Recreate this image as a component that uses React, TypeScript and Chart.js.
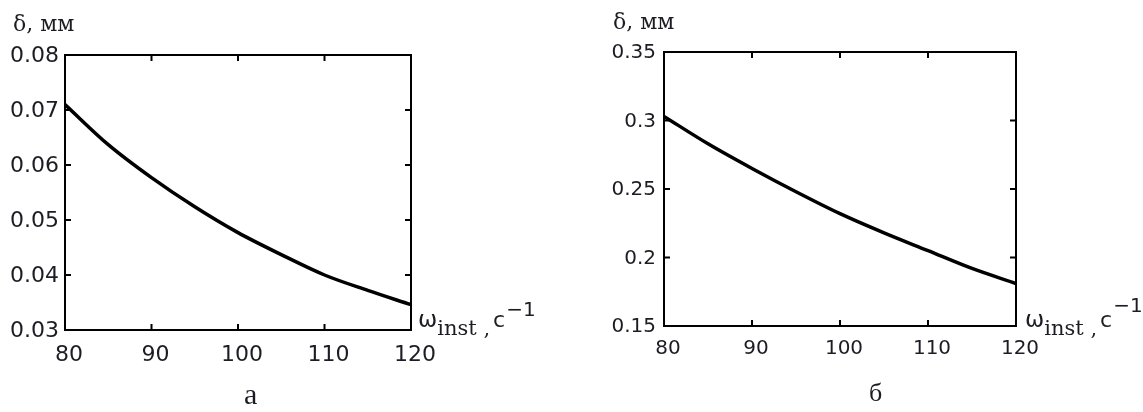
import React, { useEffect, useRef } from "react";
import Chart from "chart.js/auto";

// ---- data ----
const omega = [80, 85, 90, 95, 100, 105, 110, 115, 120];
const deltaA = [0.071, 0.0637, 0.0577, 0.0524, 0.0477, 0.0437, 0.04, 0.0372, 0.0346];
const deltaB = [0.303, 0.283, 0.265, 0.248, 0.232, 0.218, 0.205, 0.192, 0.181];
const xTicks = [80, 90, 100, 110, 120];
const yTicksA = [0.03, 0.04, 0.05, 0.06, 0.07, 0.08];
const yTicksB = [0.15, 0.2, 0.25, 0.3, 0.35];
const yTitle = "δ, мм";
const xTitleMain = "ω";
const xTitleSub = "inst";
const xTitleUnit = "c";
const xTitleSup = "−1";
const captions = ["а", "б"];

type Panel = {
  w: number;
  h: number;
  yWidth: number;
  top: number;
  rightPad: number;
  xHeight: number;
  ys: number[];
  yTicks: number[];
  fontSize: number;
  yPad: number;
  xPad: number;
  yTitleX: number;
  yTitleY: number;
  xtX: number;
  xtBase: number;
  xtSubBase: number;
  xtSupBase: number;
};

const panels: Panel[] = [
  {
    w: 536, h: 412, yWidth: 65, top: 55, rightPad: 125, xHeight: 82,
    ys: deltaA, yTicks: yTicksA, fontSize: 22, yPad: 6, xPad: 12,
    yTitleX: 13, yTitleY: 31, xtX: 418, xtBase: 327, xtSubBase: 335, xtSupBase: 316,
  },
  {
    w: 572, h: 412, yWidth: 93, top: 52, rightPad: 127, xHeight: 86,
    ys: deltaB, yTicks: yTicksB, fontSize: 20, yPad: 8, xPad: 11,
    yTitleX: 42, yTitleY: 29, xtX: 454, xtBase: 327, xtSubBase: 335, xtSupBase: 312,
  },
];

const TEXT = "#1c1c24";

function ChartPanel({ p }: { p: Panel }) {
  const ref = useRef<HTMLCanvasElement | null>(null);
  useEffect(() => {
    if (!ref.current) return;
    const framePlugin = {
      id: "frame",
      afterDatasetsDraw(chart: any) {
        const { ctx, chartArea: a, scales } = chart;
        ctx.save();
        ctx.strokeStyle = "#000";
        ctx.lineWidth = 2;
        ctx.strokeRect(a.left, a.top, a.right - a.left, a.bottom - a.top);
        ctx.beginPath();
        for (const v of xTicks) {
          const x = scales.x.getPixelForValue(v);
          ctx.moveTo(x, a.bottom);
          ctx.lineTo(x, a.bottom - 6);
          ctx.moveTo(x, a.top);
          ctx.lineTo(x, a.top + 6);
        }
        for (const v of p.yTicks) {
          const y = scales.y.getPixelForValue(v);
          ctx.moveTo(a.left, y);
          ctx.lineTo(a.left + 6, y);
          ctx.moveTo(a.right, y);
          ctx.lineTo(a.right - 6, y);
        }
        ctx.stroke();

        ctx.fillStyle = TEXT;
        ctx.textAlign = "left";
        ctx.textBaseline = "alphabetic";
        ctx.font = '22px "DejaVu Serif"';
        ctx.fillText(yTitle, p.yTitleX, p.yTitleY);

        let x = p.xtX;
        ctx.font = '23px "DejaVu Sans"';
        ctx.fillText(xTitleMain, x, p.xtBase);
        x += ctx.measureText(xTitleMain).width;
        ctx.font = '21px "DejaVu Serif"';
        ctx.fillText(xTitleSub, x, p.xtSubBase);
        x += ctx.measureText(xTitleSub).width;
        ctx.fillText(" ,", x, p.xtSubBase);
        x += ctx.measureText(" ,").width + 3;
        ctx.font = '22px "DejaVu Sans"';
        ctx.fillText(xTitleUnit, x, p.xtBase);
        x += ctx.measureText(xTitleUnit).width + 1;
        ctx.font = '20px "DejaVu Sans"';
        ctx.fillText(xTitleSup, x, p.xtSupBase);
        ctx.restore();
      },
    };

    const chart = new Chart(ref.current, {
      type: "line",
      data: {
        datasets: [
          {
            data: omega.map((v, i) => ({ x: v, y: p.ys[i] })),
            borderColor: "#000",
            borderWidth: 3.5,
            pointRadius: 0,
            cubicInterpolationMode: "monotone",
            fill: false,
          },
        ],
      },
      options: {
        responsive: false,
        animation: false,
        events: [],
        layout: { padding: { left: 0, top: p.top, right: p.rightPad, bottom: 0 } },
        plugins: { legend: { display: false }, tooltip: { enabled: false } },
        scales: {
          x: {
            type: "linear",
            min: 80,
            max: 120,
            grid: { display: false, drawTicks: false },
            border: { display: false },
            afterBuildTicks: (s: any) => {
              s.ticks = xTicks.map((v) => ({ value: v }));
            },
            afterFit: (s: any) => {
              s.height = p.xHeight;
            },
            ticks: {
              color: TEXT,
              font: { family: "DejaVu Sans", size: p.fontSize },
              padding: p.xPad,
              labelOffset: 4,
              maxRotation: 0,
              autoSkip: false,
              callback: (v: any) => String(v),
            },
          },
          y: {
            type: "linear",
            min: p.yTicks[0],
            max: p.yTicks[p.yTicks.length - 1],
            grid: { display: false, drawTicks: false },
            border: { display: false },
            afterBuildTicks: (s: any) => {
              s.ticks = p.yTicks.map((v) => ({ value: v }));
            },
            afterFit: (s: any) => {
              s.width = p.yWidth;
            },
            ticks: {
              color: TEXT,
              font: { family: "DejaVu Sans", size: p.fontSize },
              padding: p.yPad,
              labelOffset: 1,
              autoSkip: false,
              callback: (v: any) => String(Math.round(Number(v) * 1000) / 1000),
            },
          },
        },
      },
      plugins: [framePlugin],
    } as any);
    return () => chart.destroy();
  }, [p]);
  return <canvas ref={ref} width={p.w} height={p.h} style={{ width: p.w, height: p.h, display: "block" }} />;
}

export default function App() {
  return (
    <div style={{ position: "absolute", left: 0, top: 0, width: 1143, height: 412, background: "#fff", overflow: "hidden" }}>
      <div style={{ position: "absolute", left: 0, top: 0 }}>
        <ChartPanel p={panels[0]} />
      </div>
      <div style={{ position: "absolute", left: 571, top: 0 }}>
        <ChartPanel p={panels[1]} />
      </div>
      <div style={{ position: "absolute", left: 244, top: 376, font: '30px "Liberation Serif"', color: TEXT, lineHeight: "36px" }}>
        {captions[0]}
      </div>
      <div style={{ position: "absolute", left: 869, top: 378, font: '26px "Liberation Serif"', color: TEXT, lineHeight: "30px" }}>
        {captions[1]}
      </div>
    </div>
  );
}
